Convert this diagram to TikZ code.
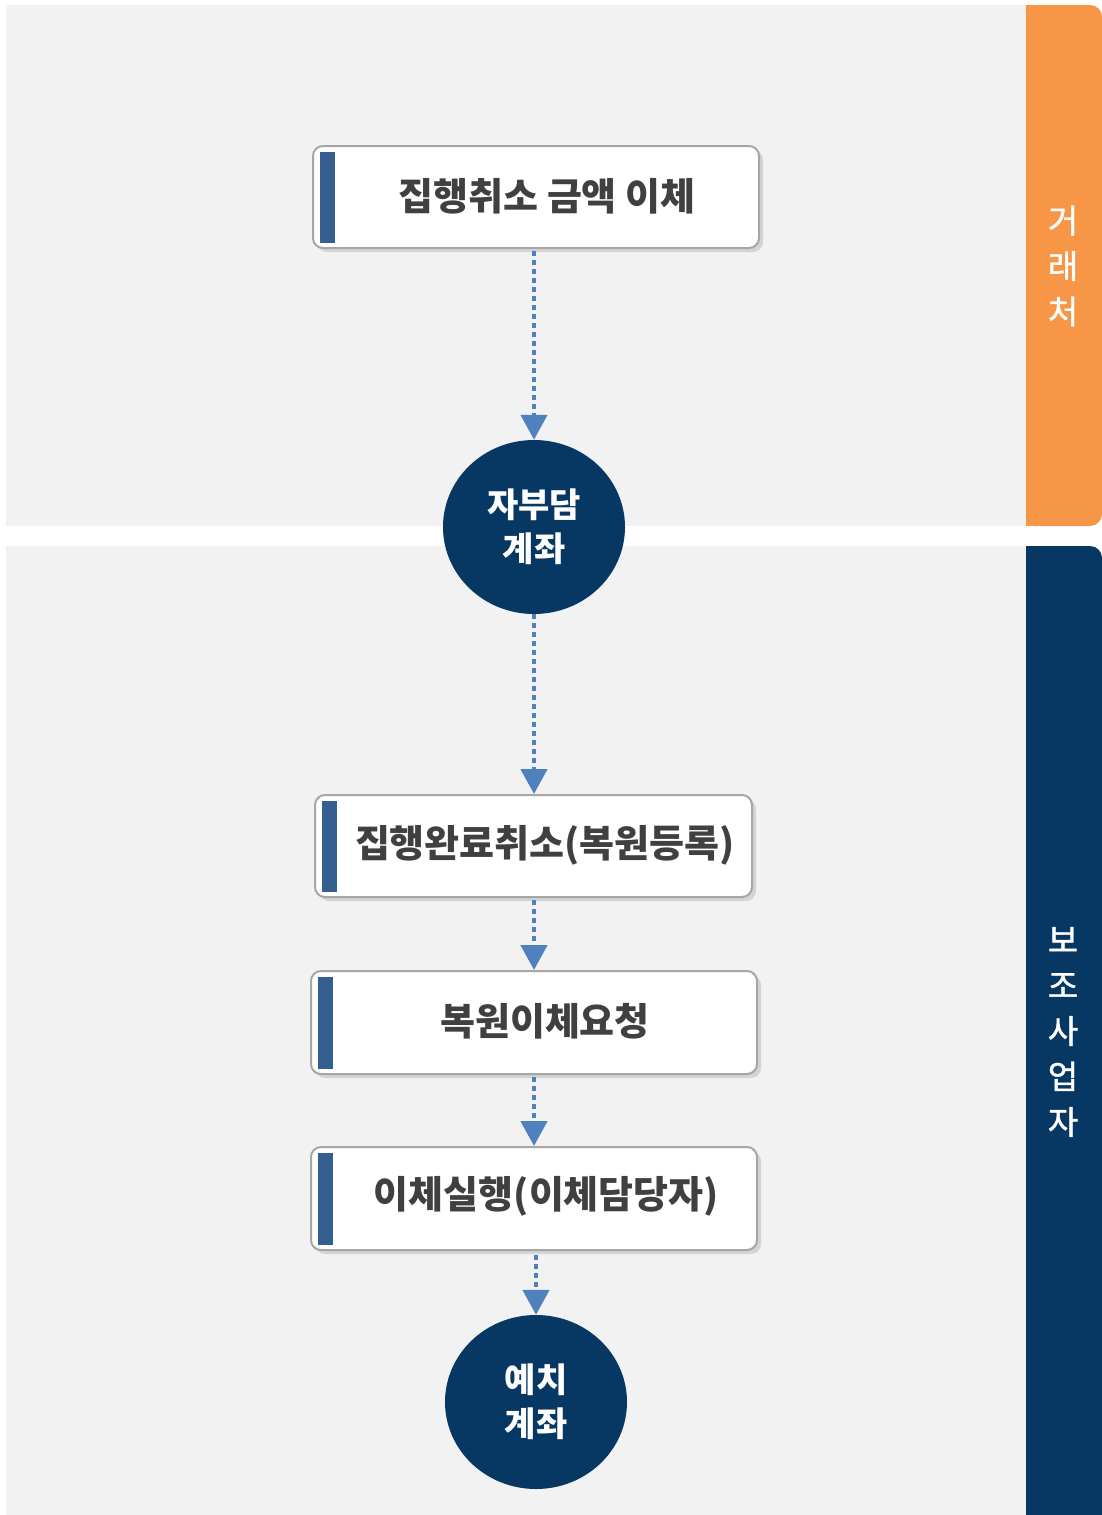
\documentclass[tikz,border=0pt]{standalone}
\usepackage{fontspec}
\setmainfont{Noto Sans CJK KR}
\newfontfamily\sidefont{Noto Sans CJK KR}[FakeBold=1.2]
\usetikzlibrary{arrows.meta,shapes.geometric,shadows}
\definecolor{lanegray}{HTML}{F2F2F2}
\definecolor{orangetab}{HTML}{F79646}
\definecolor{navy}{HTML}{073763}
\definecolor{arrowblue}{HTML}{4F81BD}
\definecolor{barblue}{HTML}{355F91}
\definecolor{boxline}{HTML}{A6A6A6}
\definecolor{textgray}{HTML}{404040}
\definecolor{shadowgray}{HTML}{D4D4D4}
\begin{document}
\begin{tikzpicture}[x=1pt,y=-1pt,
  stepbox/.style={draw=boxline, line width=2pt, fill=white, rounded corners=10pt,
    inner sep=0pt, minimum height=102pt,
    drop shadow={shadow xshift=4pt, shadow yshift=-4pt, fill=shadowgray, opacity=1}},
  boxtext/.style={text=textgray, font=\fontsize{38}{44}\selectfont\bfseries, inner sep=0pt},
  account/.style={ellipse, fill=navy, text=white, inner sep=0pt, align=center,
    minimum width=182pt, minimum height=174pt,
    font=\fontsize{34}{44}\selectfont\bfseries},
  sidetext/.style={text=white, align=center, inner sep=0pt,
    font=\sidefont\fontsize{33}{45.5}\selectfont},
  flow/.style={draw=arrowblue, line width=4.5pt, dash pattern=on 4.5pt off 4.5pt,
    -{Triangle[width=26pt,length=25pt]}}
]
\useasboundingbox (0,0) rectangle (1102,1515);
\fill[white] (0,0) rectangle (1102,1515);
% lanes
\fill[lanegray] (6,5) rectangle (1026,526);
\fill[lanegray] (6,546) rectangle (1026,1515);
\fill[orangetab, rounded corners=12pt] (1026,5) rectangle (1102,526);
\fill[orangetab] (1026,5) rectangle (1060,526);
\fill[navy, rounded corners=12pt] (1026,546) rectangle (1102,1540);
\fill[navy] (1026,546) rectangle (1060,1515);
\node[sidetext] (s1) at (1063,266) {거\\래\\처};
\node[sidetext] (s2) at (1063,1032) {보\\조\\사\\업\\자};
% boxes
\node[stepbox, minimum width=446pt] (b1) at (536,197) {};
\node[stepbox, minimum width=437pt] (b2) at (533.5,846) {};
\node[stepbox, minimum width=446pt, minimum height=103pt] (b3) at (534,1022.5) {};
\node[stepbox, minimum width=446pt, minimum height=103pt] (b4) at (534,1198.5) {};
\foreach \b in {b1,b2,b3,b4}{
  \fill[barblue] ([xshift=8pt,yshift=-7pt]\b.north west) rectangle ([xshift=23pt,yshift=6pt]\b.south west);
}
\node[boxtext] (t1) at (547,196) {집행취소 금액 이체};
\node[boxtext] (t2) at (545,845) {집행완료취소(복원등록)};
\node[boxtext] (t3) at (545,1021) {복원이체요청};
\node[boxtext] (t4) at (546.5,1196) {이체실행(이체담당자)};
% accounts
\node[account] (c1) at (534,527) {자부담\\계좌};
\node[account] (c2) at (536,1402) {예치\\계좌};
% connectors
\draw[flow] ([yshift=-2pt]b1.south -| c1) -- (c1.north);
\draw[flow] (c1.south) -- (c1 |- b2.north);
\draw[flow] ([yshift=-2pt]b2.south -| c1) -- (c1 |- b3.north);
\draw[flow] ([yshift=-2pt]b3.south -| c1) -- (c1 |- b4.north);
\draw[flow] ([yshift=-4pt]b4.south -| c2) -- (c2.north);
\end{tikzpicture}
\end{document}
